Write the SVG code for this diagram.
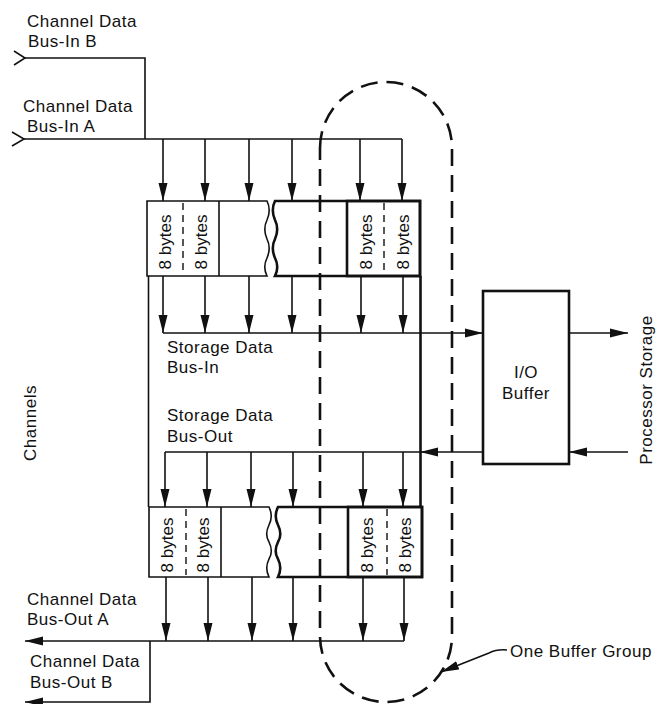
<svg xmlns="http://www.w3.org/2000/svg" width="658" height="704" viewBox="0 0 658 704">
<defs>
<style>
.t{font-family:"Liberation Sans",Arial,sans-serif;font-size:17px;letter-spacing:0.5px;fill:#111}
.b{font-family:"Liberation Sans",Arial,sans-serif;font-size:17px;fill:#111}
.ln{stroke:#111;stroke-width:1.6;fill:none}
.bx{stroke:#111;stroke-width:1.6;fill:#fff}
.bk{stroke:#111;stroke-width:2.6;fill:none}
.dv{stroke:#111;stroke-width:1.4;stroke-dasharray:7 5;fill:none}
.ov{stroke:#111;stroke-width:2.6;stroke-dasharray:17 9;fill:none}
</style>
<marker id="ah" viewBox="0 0 18 10" refX="18" refY="5" markerWidth="18" markerHeight="10" markerUnits="userSpaceOnUse" orient="auto">
<path d="M0,0.5 L18,5 L0,9.5 z" fill="#111"/>
</marker>
</defs>
<rect width="658" height="704" fill="#fff"/>

<g id="labels">
<text class="t" x="27" y="27">Channel Data</text>
<text class="t" x="28" y="47">Bus-In B</text>
<text class="t" x="23" y="112">Channel Data</text>
<text class="t" x="27" y="132">Bus-In A</text>
<text class="t" x="167" y="353">Storage Data</text>
<text class="t" x="167" y="373">Bus-In</text>
<text class="t" x="167" y="421">Storage Data</text>
<text class="t" x="167" y="442">Bus-Out</text>
<text class="t" x="27" y="605">Channel Data</text>
<text class="t" x="27" y="625">Bus-Out A</text>
<text class="t" x="30" y="667">Channel Data</text>
<text class="t" x="30" y="688">Bus-Out B</text>
<text class="t" text-anchor="middle" transform="translate(36,423) rotate(-90)">Channels</text>
<text class="t" text-anchor="middle" transform="translate(652,390) rotate(-90)">Processor Storage</text>
<text class="t" x="510" y="657">One Buffer Group</text>
</g>

<g id="connectors">
<!-- Bus-In B -->
<polyline class="ln" points="14,51 25,58 14,65"/>
<polyline class="ln" points="25,58 145,58 145,139"/>
<!-- Bus-In A -->
<polyline class="ln" points="12,132 24,139 12,146"/>
<line class="ln" x1="24" y1="139" x2="402" y2="139"/>
<line class="ln" x1="163" y1="139" x2="163" y2="201" marker-end="url(#ah)"/>
<line class="ln" x1="205" y1="139" x2="205" y2="201" marker-end="url(#ah)"/>
<line class="ln" x1="249" y1="139" x2="249" y2="201" marker-end="url(#ah)"/>
<line class="ln" x1="292" y1="139" x2="292" y2="201" marker-end="url(#ah)"/>
<line class="ln" x1="360" y1="139" x2="360" y2="201" marker-end="url(#ah)"/>
<line class="ln" x1="402" y1="139" x2="402" y2="201" marker-end="url(#ah)"/>
<!-- frame sides -->
<line class="ln" x1="148.5" y1="276" x2="148.5" y2="507"/>
<line class="bk" x1="420.5" y1="276" x2="420.5" y2="507"/>
<!-- to Storage Data Bus-In -->
<line class="ln" x1="163" y1="276" x2="163" y2="333" marker-end="url(#ah)"/>
<line class="ln" x1="205" y1="276" x2="205" y2="333" marker-end="url(#ah)"/>
<line class="ln" x1="249" y1="276" x2="249" y2="333" marker-end="url(#ah)"/>
<line class="ln" x1="292" y1="276" x2="292" y2="333" marker-end="url(#ah)"/>
<line class="ln" x1="361" y1="276" x2="361" y2="333" marker-end="url(#ah)"/>
<line class="ln" x1="403" y1="276" x2="403" y2="333" marker-end="url(#ah)"/>
<line class="ln" x1="163" y1="333" x2="483" y2="333" marker-end="url(#ah)"/>
<!-- Processor storage -->
<line class="ln" x1="569" y1="333" x2="628" y2="333" marker-end="url(#ah)"/>
<line class="ln" x1="628" y1="452" x2="569" y2="452" marker-end="url(#ah)"/>
<!-- Storage Data Bus-Out -->
<line class="ln" x1="483" y1="452" x2="420" y2="452" marker-end="url(#ah)"/>
<line class="ln" x1="420" y1="452" x2="165" y2="452"/>
<line class="ln" x1="165" y1="452" x2="165" y2="507" marker-end="url(#ah)"/>
<line class="ln" x1="207" y1="452" x2="207" y2="507" marker-end="url(#ah)"/>
<line class="ln" x1="251" y1="452" x2="251" y2="507" marker-end="url(#ah)"/>
<line class="ln" x1="293" y1="452" x2="293" y2="507" marker-end="url(#ah)"/>
<line class="ln" x1="363" y1="452" x2="363" y2="507" marker-end="url(#ah)"/>
<line class="ln" x1="403" y1="452" x2="403" y2="507" marker-end="url(#ah)"/>
<!-- to Channel Data Bus-Out -->
<line class="ln" x1="166" y1="577" x2="166" y2="641" marker-end="url(#ah)"/>
<line class="ln" x1="208" y1="577" x2="208" y2="641" marker-end="url(#ah)"/>
<line class="ln" x1="252" y1="577" x2="252" y2="641" marker-end="url(#ah)"/>
<line class="ln" x1="293" y1="577" x2="293" y2="641" marker-end="url(#ah)"/>
<line class="ln" x1="363" y1="577" x2="363" y2="641" marker-end="url(#ah)"/>
<line class="ln" x1="404" y1="577" x2="404" y2="641" marker-end="url(#ah)"/>
<line class="ln" x1="404" y1="641" x2="25" y2="641" marker-end="url(#ah)"/>
<polyline class="ln" points="150,641 150,702 25,702" marker-end="url(#ah)"/>
<!-- One Buffer Group leader -->
<path class="ln" d="M507,650 Q497,649 489,653 L441,672" marker-end="url(#ah)"/>
</g>

<g id="buffers-top">
<path class="bx" d="M147,201 H267 c3,6 3,12 0,19 c-3,6 -3,12 0,19 c3,6 3,12 0,19 c-3,6 -3,12 0,18 H147 Z"/>
<line class="ln" x1="219" y1="201" x2="219" y2="276"/>
<line class="dv" x1="183" y1="203" x2="183" y2="274"/>
<path class="bk" d="M420,201 H275 c-3,6 -3,12 0,19 c3,6 3,12 0,19 c-3,6 -3,12 0,19 c3,6 3,12 0,18 H420 Z" fill="#fff"/>
<rect class="bk" x="347" y="201" width="73" height="75"/>
<line class="dv" x1="384" y1="203" x2="384" y2="274"/>
<text class="b" text-anchor="middle" transform="translate(171,242) rotate(-90)">8 bytes</text>
<text class="b" text-anchor="middle" transform="translate(207,242) rotate(-90)">8 bytes</text>
<text class="b" text-anchor="middle" transform="translate(372,242) rotate(-90)">8 bytes</text>
<text class="b" text-anchor="middle" transform="translate(409,242) rotate(-90)">8 bytes</text>
</g>

<g id="buffers-bottom">
<path class="bx" d="M149,507 H269 c3,6 3,12 0,18 c-3,6 -3,12 0,17 c3,6 3,12 0,17 c-3,6 -3,12 0,18 H149 Z"/>
<line class="ln" x1="221" y1="507" x2="221" y2="577"/>
<line class="dv" x1="186" y1="509" x2="186" y2="575"/>
<path class="bk" d="M422,507 H278 c-3,6 -3,12 0,18 c3,6 3,12 0,17 c-3,6 -3,12 0,17 c3,6 3,12 0,18 H422 Z" fill="#fff"/>
<rect class="bk" x="348" y="507" width="74" height="70"/>
<line class="dv" x1="387" y1="509" x2="387" y2="575"/>
<text class="b" text-anchor="middle" transform="translate(173,545) rotate(-90)">8 bytes</text>
<text class="b" text-anchor="middle" transform="translate(209,545) rotate(-90)">8 bytes</text>
<text class="b" text-anchor="middle" transform="translate(373,545) rotate(-90)">8 bytes</text>
<text class="b" text-anchor="middle" transform="translate(411,545) rotate(-90)">8 bytes</text>
</g>

<g id="io-buffer">
<rect class="bk" x="483" y="291" width="86" height="173" fill="#fff"/>
<text class="t" x="526" y="378" text-anchor="middle">I/O</text>
<text class="t" x="526" y="399" text-anchor="middle">Buffer</text>
</g>

<g id="buffer-group">
<path class="ov" d="M320,148 A66,66 0 0 1 452,148 L452,636 A66,66 0 0 1 320,636 Z"/>
</g>
</svg>
